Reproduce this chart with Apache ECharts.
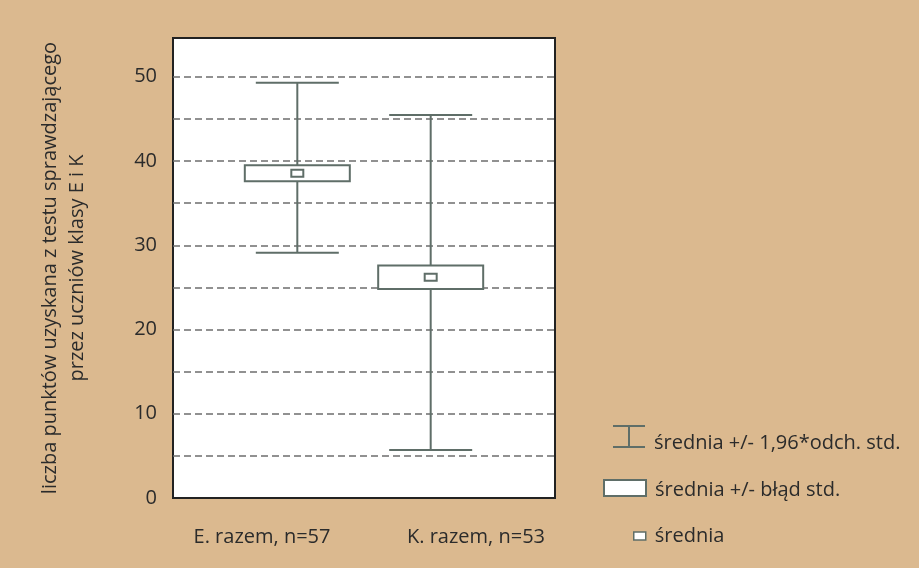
<!DOCTYPE html>
<html>
<head>
<meta charset="utf-8">
<script src="https://cdn.jsdelivr.net/npm/echarts@6/dist/echarts.min.js"></script>
<style>
  html, body { margin: 0; padding: 0; background: #dbb98f; }
  #chart { width: 919px; height: 568px; }
</style>
</head>
<body>
<div id="chart"></div>
<script>
// Groups and their statistics (points scored on the test)
const categories = ['E. razem, n=57', 'K. razem, n=53'];
const means = [38.55, 26.2];
const seLow = [37.6, 24.8];      // mean - standard error
const seHigh = [39.5, 27.6];     // mean + standard error
const sdLow = [29.1, 5.7];       // mean - 1.96 * std. deviation
const sdHigh = [49.3, 45.45];    // mean + 1.96 * std. deviation
const yTicks = [0, 10, 20, 30, 40, 50];

const seriesNames = ['średnia +/- 1,96*odch. std.', 'średnia +/- błąd std.', 'średnia'];

const MARK = '#5f6e68';
const FONT = 'Open Sans';
const TEXT = '#2b2b2b';
const FS = 20;

const whiskerData = categories.map((c, i) => [i, sdLow[i], sdHigh[i]]);
const boxData = categories.map((c, i) => [i, seLow[i], seHigh[i]]);
const meanData = categories.map((c, i) => [i, means[i]]);

function renderWhisker(params, api) {
  const x = api.value(0);
  const lo = api.coord([x, api.value(1)]);
  const hi = api.coord([x, api.value(2)]);
  const half = 41.5;
  const st = { stroke: MARK, lineWidth: 2 };
  return {
    type: 'group',
    children: [
      { type: 'line', shape: { x1: lo[0], y1: lo[1], x2: hi[0], y2: hi[1] }, style: st },
      { type: 'line', shape: { x1: hi[0] - half, y1: hi[1], x2: hi[0] + half, y2: hi[1] }, style: st },
      { type: 'line', shape: { x1: lo[0] - half, y1: lo[1], x2: lo[0] + half, y2: lo[1] }, style: st }
    ]
  };
}

function renderBox(params, api) {
  const x = api.value(0);
  const lo = api.coord([x, api.value(1)]);
  const hi = api.coord([x, api.value(2)]);
  const w = 105;
  return {
    type: 'rect',
    shape: { x: lo[0] - w / 2, y: hi[1], width: w, height: lo[1] - hi[1] },
    style: { fill: '#ffffff', stroke: MARK, lineWidth: 2 }
  };
}

function renderMean(params, api) {
  const p = api.coord([api.value(0), api.value(1)]);
  const w = 12, h = 7;
  return {
    type: 'rect',
    shape: { x: p[0] - w / 2, y: p[1] - h / 2, width: w, height: h },
    style: { fill: '#ffffff', stroke: MARK, lineWidth: 2 }
  };
}

// legend label with its own downward nudge
function legendLabel(padTop) {
  return {
    formatter: name => '{t|' + name + '}',
    textStyle: {
      fontFamily: FONT, fontSize: FS, color: TEXT,
      rich: { t: { fontFamily: FONT, fontSize: FS, color: TEXT, lineHeight: 20, padding: [padTop, 0, 0, 4] } }
    }
  };
}

const option = {
  backgroundColor: '#dbb98f',
  animation: false,
  grid: [
    { left: 173, top: 38, width: 382, height: 460, show: true, backgroundColor: '#ffffff', borderColor: '#222222', borderWidth: 2 },
    { left: 155, top: 38, width: 428, height: 460, show: false }
  ],
  xAxis: [
    { type: 'value', gridIndex: 0, min: -0.932, max: 1.932, show: false },
    {
      type: 'category', gridIndex: 1, data: categories,
      axisLine: { show: false }, axisTick: { show: false }, splitLine: { show: false },
      axisLabel: { margin: 29, fontFamily: FONT, fontSize: FS, color: TEXT }
    }
  ],
  yAxis: [
    {
      type: 'value', gridIndex: 0, min: 0, max: 54.6, interval: 5,
      axisLine: { show: false }, axisTick: { show: false },
      axisLabel: {
        margin: 16, fontFamily: FONT, fontSize: FS, color: TEXT,
        formatter: v => (yTicks.indexOf(v) >= 0 ? String(v) : '')
      },
      splitLine: { show: true, showMinLine: false, showMaxLine: false, lineStyle: { color: '#6e6e6e', width: 1.5, type: [7, 4] } },
      name: 'liczba punktów uzyskana z testu sprawdzającego\nprzez uczniów klasy E i K',
      nameLocation: 'middle', nameRotate: 90, nameGap: 82,
      nameTextStyle: { fontFamily: FONT, fontSize: FS, color: TEXT, lineHeight: 27, align: 'center' }
    },
    { type: 'value', gridIndex: 1, show: false }
  ],
  legend: [
    Object.assign({
      data: [{ name: seriesNames[0], icon: 'path://M0,0H32V2H0Z M15,0H17V23H15Z M0,21H32V23H0Z' }],
      left: 613, top: 419.5, padding: 0, itemWidth: 32, itemHeight: 23, selectedMode: false
    }, legendLabel(14)),
    Object.assign({
      data: [{ name: seriesNames[1], icon: 'rect', itemStyle: { color: '#ffffff', borderColor: MARK, borderWidth: 2 } }],
      left: 603, top: 476, padding: 0, itemWidth: 42, itemHeight: 16, selectedMode: false
    }, legendLabel(4)),
    Object.assign({
      data: [{ name: seriesNames[2], icon: 'rect', itemStyle: { color: '#ffffff', borderColor: MARK, borderWidth: 1.5 } }],
      left: 633, top: 526, padding: 0, itemWidth: 12, itemHeight: 8, selectedMode: false
    }, legendLabel(0))
  ],
  series: [
    { name: seriesNames[0], type: 'custom', xAxisIndex: 0, yAxisIndex: 0, renderItem: renderWhisker, data: whiskerData, itemStyle: { color: MARK }, z: 3 },
    { name: seriesNames[1], type: 'custom', xAxisIndex: 0, yAxisIndex: 0, renderItem: renderBox, data: boxData, itemStyle: { color: '#ffffff', borderColor: MARK }, z: 4 },
    { name: seriesNames[2], type: 'custom', xAxisIndex: 0, yAxisIndex: 0, renderItem: renderMean, data: meanData, itemStyle: { color: '#ffffff', borderColor: MARK }, z: 5 }
  ]
};

const chart = echarts.init(document.getElementById('chart'), null, { renderer: 'canvas' });
chart.setOption(option);
</script>
</body>
</html>
